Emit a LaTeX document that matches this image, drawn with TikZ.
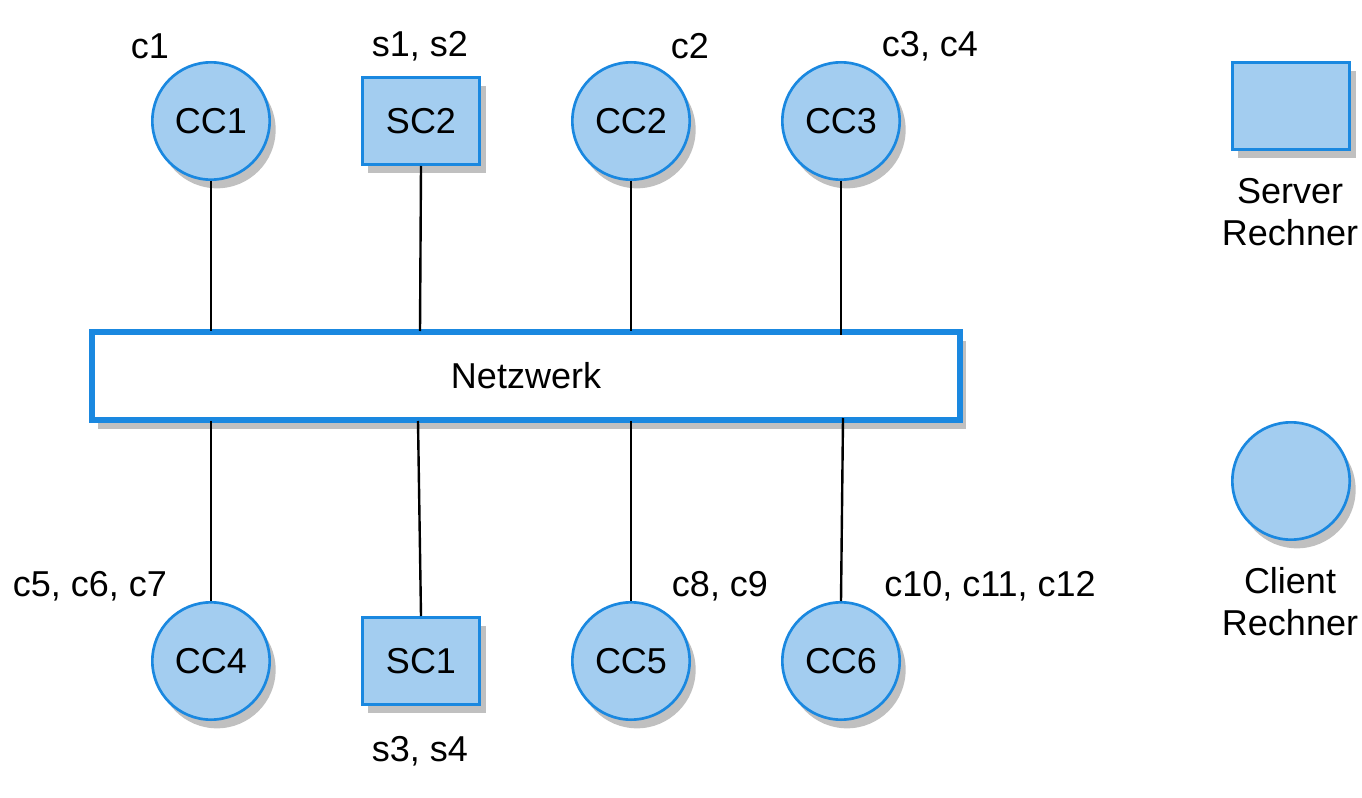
\documentclass[tikz,border=0pt]{standalone}
\usepackage{fontspec}
\setmainfont{Liberation Sans}
\definecolor{nfill}{HTML}{A3CDF0}
\definecolor{nline}{HTML}{1A88E0}
\definecolor{shad}{HTML}{C0C0C0}
\begin{document}
\begin{tikzpicture}[x=0.75pt,y=-0.75pt,
  font=\fontsize{27}{31.5}\selectfont,
  shadowed/.style={preaction={fill=shad,transform canvas={shift={(4.5pt,-6.5pt)}}}},
  client/.style={circle,draw=nline,fill=nfill,line width=2pt,minimum size=88pt,inner sep=0pt,shadowed},
  server/.style={rectangle,draw=nline,fill=nfill,line width=2pt,minimum width=88pt,minimum height=65.5pt,inner sep=0pt,shadowed},
  net/.style={rectangle,draw=nline,fill=white,line width=3.8pt,minimum width=651pt,minimum height=66pt,inner sep=0pt,shadowed},
  lbl/.style={inner sep=0pt,anchor=center},
  link/.style={line width=1.8pt,black}]
\useasboundingbox (0,0) rectangle (1362,798);
\node[net] (net) at (526,376) {Netzwerk};
\node[client] (cc1) at (211,121) {CC1};
\node[server] (sc2) at (421,121) {SC2};
\node[client] (cc2) at (631,121) {CC2};
\node[client] (cc3) at (841,121) {CC3};
\node[client] (cc4) at (211,661) {CC4};
\node[server] (sc1) at (421,661) {SC1};
\node[client] (cc5) at (631,661) {CC5};
\node[client] (cc6) at (841,661) {CC6};
\node[server] (legs) at (1291,106) {};
\node[client] (legc) at (1291,481) {};
\node[lbl,align=center] (tls) at (1290,212) {Server\\Rechner};
\node[lbl,align=center] (tlc) at (1290,602) {Client\\Rechner};
\node[lbl] (l1) at (150,46) {c1};
\node[lbl] (l2) at (420,46) {s1, s2};
\node[lbl] (l3) at (690,46) {c2};
\node[lbl] (l4) at (930,46) {c3, c4};
\node[lbl] (l5) at (90,586) {c5, c6, c7};
\node[lbl] (l6) at (720,586) {c8, c9};
\node[lbl] (l7) at (990,586) {c10, c11, c12};
\node[lbl] (l8) at (420,751) {s3, s4};
\coordinate (t1) at (211,331);
\coordinate (t2) at (420,331);
\coordinate (t3) at (631,331);
\coordinate (t4) at (841,335);
\coordinate (b1) at (211,421);
\coordinate (b2) at (418,421);
\coordinate (b3) at (631,421);
\coordinate (b4) at (843,418);
\draw[link] (cc1.south) -- (t1);
\draw[link] (sc2.south) -- (t2);
\draw[link] (cc2.south) -- (t3);
\draw[link] (cc3.south) -- (t4);
\draw[link] (b1) -- (cc4.north);
\draw[link] (b2) -- (sc1.north);
\draw[link] (b3) -- (cc5.north);
\draw[link] (b4) -- (cc6.north);
\end{tikzpicture}
\end{document}
